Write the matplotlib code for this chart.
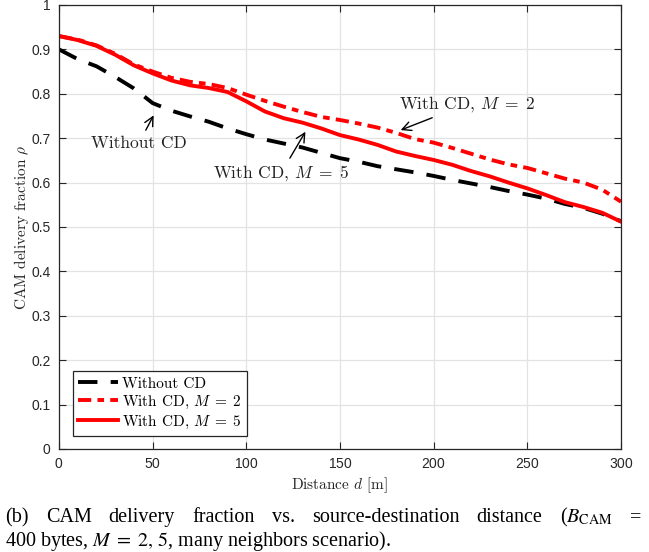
import numpy as np
import matplotlib
matplotlib.use("Agg")
import matplotlib.pyplot as plt

# distance [m]
distance = [0, 10, 20, 30, 40, 50, 60, 70, 80, 90, 100, 110, 120, 130, 140, 150,
            160, 170, 180, 190, 200, 210, 220, 230, 240, 250, 260, 270, 280, 290, 300]

# CAM delivery fraction
without_cd = [0.900, 0.878, 0.862, 0.838, 0.812, 0.779, 0.762, 0.749, 0.737, 0.722, 0.709,
              0.697, 0.688, 0.679, 0.667, 0.655, 0.647, 0.637, 0.630, 0.623, 0.615,
              0.606, 0.598, 0.590, 0.581, 0.573, 0.564, 0.552, 0.543, 0.530, 0.513]
with_cd_m2 = [0.930, 0.922, 0.909, 0.890, 0.866, 0.850, 0.836, 0.827, 0.822, 0.813, 0.798,
              0.784, 0.771, 0.759, 0.748, 0.741, 0.733, 0.724, 0.712, 0.698, 0.690,
              0.678, 0.665, 0.652, 0.641, 0.633, 0.621, 0.609, 0.600, 0.584, 0.557]
with_cd_m5 = [0.930, 0.921, 0.908, 0.888, 0.864, 0.846, 0.830, 0.819, 0.813, 0.804, 0.783,
              0.760, 0.745, 0.735, 0.722, 0.707, 0.697, 0.685, 0.670, 0.660, 0.651,
              0.640, 0.626, 0.614, 0.600, 0.587, 0.572, 0.556, 0.545, 0.532, 0.512]

labels = ["Without CD", r"With CD, $M\;=\;2$", r"With CD, $M\;=\;5$"]
x_ticks = [0, 50, 100, 150, 200, 250, 300]
y_ticks = [0, 0.1, 0.2, 0.3, 0.4, 0.5, 0.6, 0.7, 0.8, 0.9, 1]
y_ticklabels = ["0", "0.1", "0.2", "0.3", "0.4", "0.5", "0.6", "0.7", "0.8", "0.9", "1"]

plt.rcParams['mathtext.fontset'] = 'cm'
plt.rcParams['axes.formatter.use_mathtext'] = True
dark = '#262626'
cm_font = 'cmr10'

fig = plt.figure(figsize=(6.49, 5.52), dpi=100)
ax = fig.add_axes([59 / 649, 1 - 449 / 552, 562 / 649, 444 / 552])

ax.plot(distance, without_cd, color='black', lw=2.8, linestyle=(0, (5, 3.4)),
        label=labels[0])
ax.plot(distance, with_cd_m2, color='red', lw=2.8, linestyle=(0, (3.4, 1.6, 1.7, 1.6)),
        label=labels[1])
ax.plot(distance, with_cd_m5, color='red', lw=2.8, linestyle='-', label=labels[2])

ax.set_xlim(0, 300)
ax.set_ylim(0, 1)
ax.set_xticks(x_ticks)
ax.set_yticks(y_ticks)
ax.set_yticklabels(y_ticklabels)
ax.grid(True, color='#e3e3e3', lw=0.9)
ax.set_axisbelow(True)
ax.tick_params(direction='in', top=True, right=True, length=5, width=0.8,
               colors=dark, labelsize=10, pad=6)
for lab in ax.get_xticklabels() + ax.get_yticklabels():
    lab.set_family('Liberation Sans')
for sp in ax.spines.values():
    sp.set_color(dark)
    sp.set_linewidth(0.9)

ax.set_xlabel(r"Distance $d$ [m]", fontfamily=cm_font, fontsize=11, color=dark, labelpad=3)
ax.set_ylabel(r"CAM delivery fraction $\rho$", fontfamily=cm_font, fontsize=11,
              color=dark, labelpad=0)

# annotations
arrow = dict(arrowstyle='->', color='black', lw=1.0, mutation_scale=16)
ax.annotate("Without CD", xy=(51.2, 0.757), xytext=(42.7, 0.689), fontsize=12.5,
            fontfamily=cm_font, ha='center', va='center', arrowprops=arrow,
            color='#222222')
ax.annotate(labels[2], xy=(132.3, 0.720), xytext=(118.5, 0.621), fontsize=12.5,
            fontfamily=cm_font, ha='center', va='center', arrowprops=arrow,
            color='#222222')
ax.annotate(labels[1], xy=(181, 0.716), xytext=(218, 0.777), fontsize=12.5,
            fontfamily=cm_font, ha='center', va='center', arrowprops=arrow,
            color='#222222')

leg = ax.legend(loc='lower left', bbox_to_anchor=(0.025, 0.029), borderaxespad=0,
                fancybox=False, edgecolor=dark, framealpha=1, handlelength=2.6,
                handletextpad=0.25, labelspacing=0.2, borderpad=0.35,
                prop={'family': cm_font, 'size': 11})
leg.get_frame().set_linewidth(0.9)

# caption, first line justified
cap_font = 'Liberation Serif'
cap_size = 14.5
line1 = ["(b)", "CAM", "delivery", "fraction", "vs.", "source-destination", "distance",
         r"($B_{\mathrm{CAM}}$", "="]
line2 = r"400 bytes, $M\;=\;2,\,5$, many neighbors scenario)."
renderer = fig.canvas.get_renderer()
texts = []
for w in line1:
    t = fig.text(0, 1 - 522 / 552, w, fontfamily=cap_font, fontsize=cap_size,
                 math_fontfamily='stix', va='baseline')
    texts.append(t)
widths = [t.get_window_extent(renderer).width for t in texts]
left, right = 5, 641
gap = (right - left - sum(widths)) / (len(texts) - 1)
xpos = left
for t, w in zip(texts, widths):
    t.set_x(xpos / 649)
    xpos += w + gap
fig.text(5 / 649, 1 - 546 / 552, line2, fontfamily=cap_font, fontsize=cap_size,
         math_fontfamily='stix', va='baseline')

fig.savefig("out.png", dpi=100)
